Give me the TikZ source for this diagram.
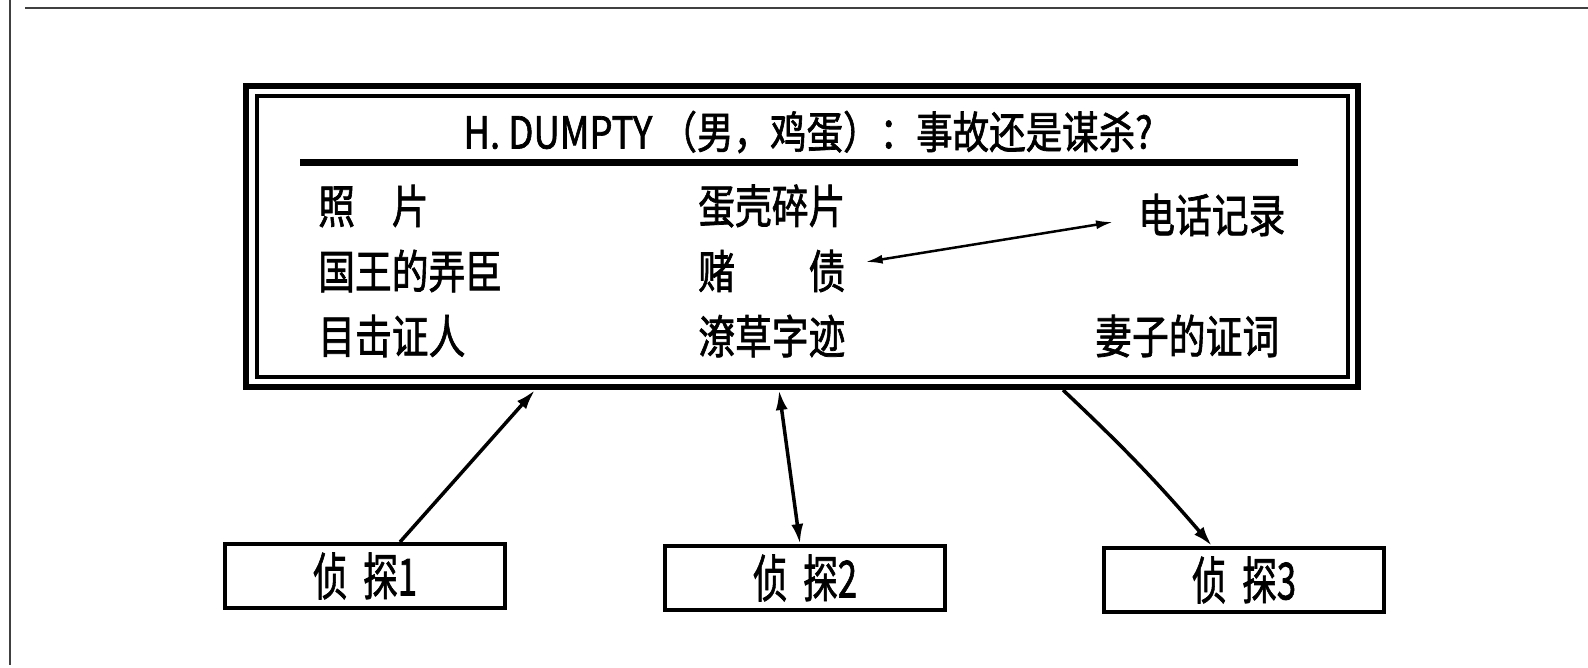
\documentclass[tikz,border=0pt]{standalone}
\usepackage{fontspec}
\usepackage{graphicx}
\setmainfont{Noto Sans CJK SC}[FakeBold=1.6]
\newfontfamily\medfont{Noto Sans CJK SC}[FakeBold=1.6]
\usetikzlibrary{arrows.meta}
\newcommand\nx[1]{\scalebox{0.8}[1]{#1}}
\newcommand\dx[1]{\scalebox{0.68}[1]{#1}}
\begin{document}
\begin{tikzpicture}[x=1pt,y=-1pt,
  frameline/.style={line width=2.5pt, draw=black!75},
  item/.style={anchor=west, inner sep=0pt, font=\fontsize{46}{46}\selectfont\medfont},
  detbox/.style={draw, line width=4pt, minimum width=280pt, minimum height=64pt, inner sep=0pt, font=\fontsize{51}{51}\selectfont\medfont},
  mainbox/.style={draw, line width=6pt, minimum width=1112pt, minimum height=301pt, inner sep=0pt},
  thickarrow/.style={line width=3.5pt, -{Latex[length=20pt,width=12pt]}},
  twoarrow/.style={line width=3.5pt, {Latex[length=20pt,width=12pt]}-{Latex[length=20pt,width=12pt]}},
  thinarrow/.style={line width=2.5pt, {Latex[length=17pt,width=9pt]}-{Latex[length=17pt,width=9pt]}},
]
\useasboundingbox (0,0) rectangle (1588,667);
% outer frame
\draw[frameline] (10,0) -- (10,665);
\draw[frameline] (25,8) -- (1588,8);
% main box
\node[mainbox] (main) at (802,236.5) {};
\draw[line width=3.5pt] (257,96) rectangle (1348,377);
\node[inner sep=0pt, font=\medfont] (title) at (808,132) {\scalebox{0.83}[1]{\fontsize{44}{44}\selectfont H. DUMPTY （男，鸡蛋）：事故还是谋杀?}};
\draw[line width=7pt] (300,162) -- (1298,162);
% items
\node[item] (a1) at (318,206) {\nx{照　片}};
\node[item] (a2) at (318,271) {\nx{国王的弄臣}};
\node[item] (a3) at (318,336) {\nx{目击证人}};
\node[item] (b1) at (698,206) {\nx{蛋壳碎片}};
\node[item] (b2) at (698,271) {\nx{赌　　债}};
\node[item] (b3) at (698,336) {\nx{潦草字迹}};
\node[item] (c1) at (1138,215) {\nx{电话记录}};
\node[item] (c2) at (1095,336) {\nx{妻子的证词}};
\draw[thinarrow] ([shift={(20pt,9pt)}]b2.east) -- ([shift={(-25pt,-7pt)}]c1.west);
% detectives
\node[detbox] (d1) at (365,576) {\dx{侦\hspace{0.45em}探1}};
\node[detbox] (d2) at (805,578) {\dx{侦\hspace{0.45em}探2}};
\node[detbox] (d3) at (1244,580) {\dx{侦\hspace{0.45em}探3}};
% connectors
\draw[thickarrow] ([xshift=35pt]d1.north) -- ([xshift=-267pt]main.south);
\draw[twoarrow] ([xshift=-23pt]main.south) -- ([xshift=-5pt]d2.north);
\draw[thickarrow] ([xshift=261pt]main.south) to[bend left=3] ([xshift=-32pt]d3.north);
\end{tikzpicture}
\end{document}
